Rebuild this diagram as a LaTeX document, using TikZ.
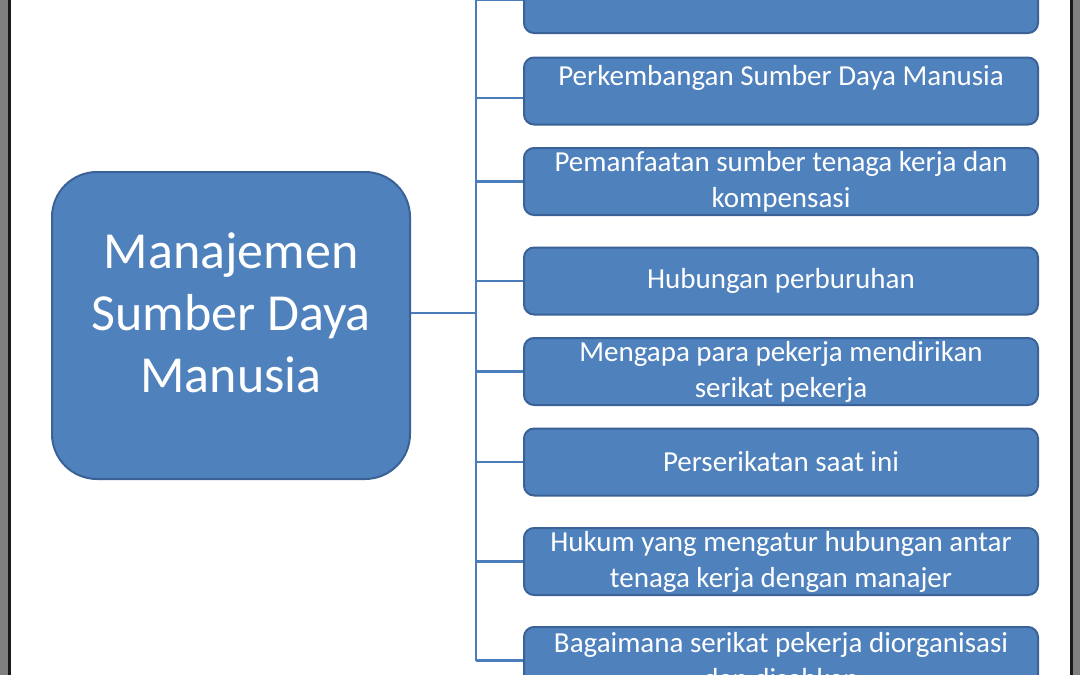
\documentclass[tikz,border=0pt]{standalone}
\usepackage{fontspec}
\setmainfont{Carlito}
\definecolor{boxfill}{HTML}{4F81BD}
\definecolor{boxdraw}{HTML}{3A6296}
\definecolor{connc}{HTML}{4A7EBB}
\definecolor{framegray}{HTML}{808080}
\definecolor{frameblack}{HTML}{1A1A1A}
\tikzset{
  subbox/.style={draw=boxdraw, line width=2pt, fill=boxfill, rounded corners=10pt,
    minimum width=514pt, minimum height=67pt, inner sep=0pt, text=white,
    align=center, font=\fontsize{29}{36}\selectfont},
  mainbox/.style={draw=boxdraw, line width=2pt, fill=boxfill, rounded corners=45pt,
    minimum width=358pt, minimum height=307pt, inner sep=0pt},
  maintext/.style={text=white, align=center, font=\fontsize{52}{62}\selectfont, inner sep=0pt},
  conn/.style={draw=connc, line width=2.5pt},
}
\begin{document}
\begin{tikzpicture}[x=1pt,y=-1pt]
\fill[white] (0,0) rectangle (1080,675);
\useasboundingbox (0,0) rectangle (1080,675);

\coordinate (trunk) at (476,0);

\node[mainbox] (main) at (231,325.5) {};
\node[maintext] (mainlbl) at ([yshift=13pt]main.center) {Manajemen\\Sumber Daya\\Manusia};

\node[subbox] (b1) at (781,-0.5) {};
\node[subbox] (b2) at (781,91) {Perkembangan Sumber Daya Manusia\\[-16pt]\strut};
\node[subbox] (b3) at (781,181.5) {Pemanfaatan sumber tenaga kerja dan\\kompensasi};
\node[subbox] (b4) at (781,281) {Hubungan perburuhan};
\node[subbox] (b5) at (781,371.5) {Mengapa para pekerja mendirikan\\serikat pekerja};
\node[subbox] (b6) at (781,462) {Perserikatan saat ini};
\node[subbox] (b7) at (781,561.5) {Hukum yang mengatur hubungan antar\\tenaga kerja dengan manajer};
\node[subbox] (b8) at (781,660.5) {Bagaimana serikat pekerja diorganisasi\\dan disahkan};

\draw[conn] ([yshift=12.5pt]main.east) -- ([yshift=12.5pt]main.east -| trunk);
\draw[conn] (b1.west -| trunk) -- (b8.west -| trunk);
\foreach \b in {b1,b3,b4,b5,b6,b7,b8}{
  \draw[conn] (\b.west -| trunk) -- (\b.west);
}
\draw[conn] ([yshift=-7pt]b2.west -| trunk) -- ([yshift=-7pt]b2.west);

% frame
\fill[framegray] (0,0) rectangle (8,675);
\fill[frameblack] (8,0) rectangle (11,675);
\fill[frameblack] (1070,0) rectangle (1072.5,675);
\fill[framegray] (1072.5,0) rectangle (1080,675);
\end{tikzpicture}
\end{document}
